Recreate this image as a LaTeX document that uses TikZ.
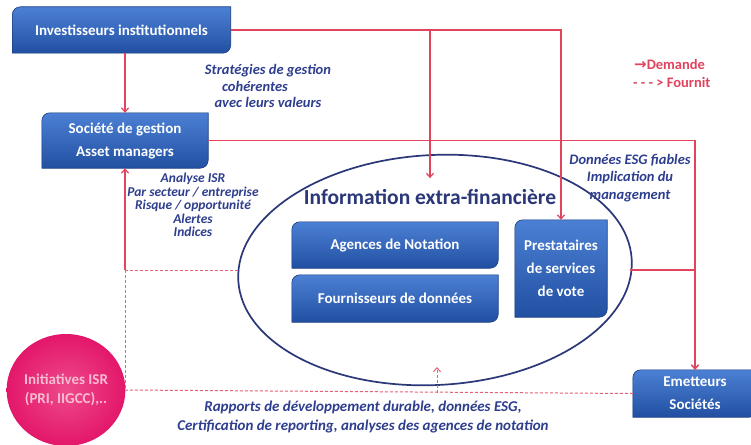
\documentclass[tikz,border=0pt]{standalone}
\usepackage{fontspec}
\setmainfont{Carlito}
\newfontfamily\symfont{DejaVu Sans}
\usetikzlibrary{arrows.meta,shapes.geometric,backgrounds}

\definecolor{boxtop}{HTML}{4C80D4}
\definecolor{boxbot}{HTML}{2150A2}
\definecolor{boxedge}{HTML}{1C3F85}
\definecolor{linkred}{HTML}{E2445E}
\definecolor{labelblue}{HTML}{2E3E8E}
\definecolor{navy}{HTML}{2A3778}
\definecolor{isrpink}{HTML}{E3176A}
\definecolor{isrlight}{HTML}{EE4A8A}
\definecolor{isrtext}{HTML}{F7BCD3}

% outline of a box with rounded top-left and bottom-right corners
\newcommand\diagbox[1]{(#1.south west) -- ([xshift=-8pt]#1.south east)
  arc[start angle=270,end angle=360,radius=8pt] -- (#1.north east)
  -- ([xshift=8pt]#1.north west) arc[start angle=90,end angle=180,radius=8pt] -- cycle}

\tikzset{
  x=1pt, y=1pt,
  box/.style={inner sep=0pt, align=center, text=white,
    font=\bfseries\fontsize{15}{23}\selectfont},
  demand/.style={draw=linkred, line width=1.2pt,
    -{Straight Barb[length=4pt,width=7pt]}},
  supply/.style={draw=linkred!85, line width=1pt, dash pattern=on 3pt off 2pt},
  note/.style={text=labelblue, align=center},
}

\begin{document}
\begin{tikzpicture}
\useasboundingbox (0,0) rectangle (751,-444);
\clip (0,0) rectangle (751,-444);

% the extra-financial information ellipse
\node[draw=navy, line width=1.7pt, ellipse, minimum width=394pt,
  minimum height=230pt, rotate=3, inner sep=0pt] (info) at (435,-270) {};

% boxes
\node[box, minimum width=218pt, minimum height=46pt] (inv) at (121.5,-30) {Investisseurs institutionnels};
\node[box, minimum width=166pt, minimum height=55pt] (soc) at (125,-140.5) {Société de gestion\\Asset managers};
\node[box, minimum width=206pt, minimum height=46pt] (age) at (395,-245) {Agences de Notation};
\node[box, minimum width=206pt, minimum height=47pt] (fou) at (395,-298.5) {Fournisseurs de données};
\node[box, minimum width=92pt, minimum height=97pt] (pre) at (561,-268.5) {Prestataires\\de services\\de vote};
\node[box, minimum width=124pt, minimum height=47pt] (emi) at (695,-393.5) {Emetteurs\\Sociétés};

\begin{scope}[on background layer]
  \fill[white] (0,0) rectangle (751,-444);
  \foreach \b in {inv,soc,age,fou,pre,emi} {
    \fill[black, opacity=0.25, shift={(1.5pt,-2pt)}] \diagbox{\b};
    \path[top color=boxtop, bottom color=boxbot, draw=boxedge, line width=0.6pt] \diagbox{\b};
  }
\end{scope}

% SRI initiatives disc
\node[ellipse, minimum width=118pt, minimum height=112pt, inner color=isrlight,
  outer color=isrpink, text=isrtext, align=center, inner sep=0pt,
  font=\bfseries\fontsize{15}{19}\selectfont] (ini) at (66,-390)
  {Initiatives ISR\\(PRI, IIGCC),..};

% title inside the ellipse
\node[text=navy, font=\bfseries\fontsize{21.5}{24}\selectfont, inner sep=3pt] (title)
  at (430,-197) {Information extra-financière};

% labels
\node[note, font=\bfseries\itshape\fontsize{14.5}{16.5}\selectfont] (lstrat) at (268,-86)
  {Stratégies de gestion\\\hspace*{-26pt}cohérentes\\avec leurs valeurs};
\node[note, font=\bfseries\itshape\fontsize{13.5}{13.5}\selectfont] (lanal) at (193,-205)
  {Analyse ISR\\Par secteur / entreprise\\Risque / opportunité\\Alertes\\Indices};
\node[note, font=\bfseries\itshape\fontsize{14.5}{17.5}\selectfont] (lesg) at (630,-178)
  {Données ESG fiables\\Implication du\\management};
\node[note, font=\bfseries\itshape\fontsize{15}{18.5}\selectfont] (lrap) at (363,-417)
  {Rapports de développement durable, données ESG,\\Certification de reporting, analyses des agences de notation};

% legend
\node[anchor=west, text=linkred, font=\bfseries\fontsize{14.5}{16}\selectfont, inner sep=0pt] (legd)
  at (634,-64) {{\symfont\fontsize{15}{16}\selectfont →}Demande};
\node[anchor=west, text=linkred, font=\bfseries\fontsize{14.5}{16}\selectfont, inner sep=0pt] (legf)
  at (633,-82) {- - - > Fournit};

% junction points on the ellipse and on the supply lines
\coordinate (infoW) at (238,-270);
\coordinate (infoE) at (630,-270);
\coordinate (jsw) at (soc.south |- infoW);
\coordinate (jb) at (437,-393);
\coordinate (jbt) at (437,-367);

% supply (dashed)
\draw[supply] (emi.west) -- (ini.east);
\draw[supply] (jsw) -- (jsw |- ini.east);
\draw[supply] (infoW) -- (jsw);
\draw[supply, -{Straight Barb[length=4pt,width=7pt]}] (jb) -- (jbt);

% demand (solid)
\draw[demand] (jsw) -- (soc.south);
\draw[demand] (inv.south -| soc.north) -- (soc.north);
\draw[demand] (inv.east) -- (inv.east -| pre.north) -- (pre.north);
\draw[demand] (inv.east -| title.north) -- ([yshift=8pt]title.north);
\draw[demand] (soc.east) -- (soc.east -| emi.north) -- (emi.north);
\draw[demand] (infoE) -- (infoE -| emi.north) -- (emi.north);
\end{tikzpicture}
\end{document}
